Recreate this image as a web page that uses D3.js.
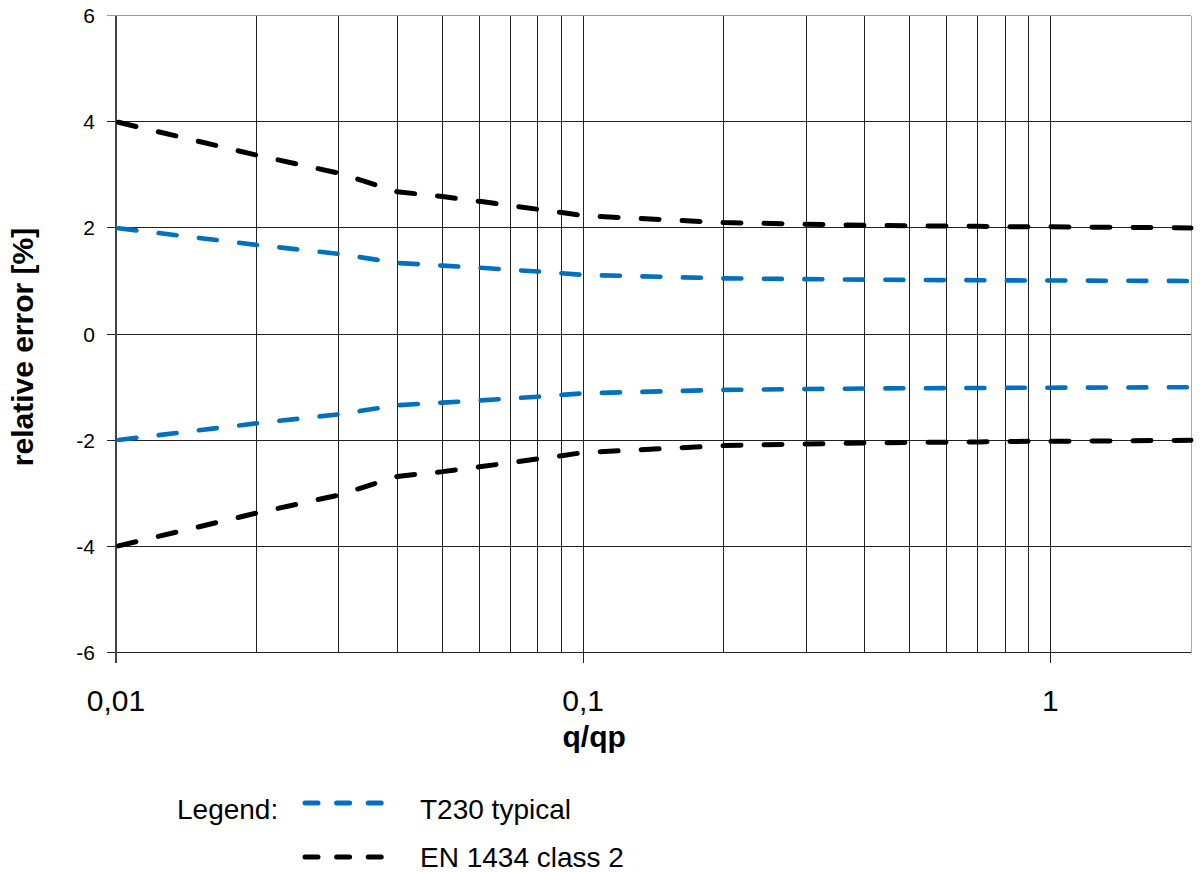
<!DOCTYPE html>
<html lang="en">
<head>
  <meta charset="UTF-8">
  <title>Relative error vs q/qp</title>
  <style>
    body { margin: 0; background: #fff; }
    svg { display: block; font-family: "Liberation Sans", Arial, sans-serif; }
  </style>
</head>
<body>
  <svg width="1200" height="872"></svg>
  <script src="https://d3js.org/d3.v7.min.js"></script>
  <script>
    // data
    const qRatio = [0.01, 0.02, 0.03, 0.04, 0.05, 0.06, 0.07, 0.08, 0.09, 0.1,
                    0.2, 0.3, 0.4, 0.5, 0.6, 0.7, 0.8, 0.9, 1, 2];
    const enUpper = [4.0, 3.37, 3.03, 2.68, 2.59, 2.5, 2.42, 2.35, 2.29, 2.23,
                     2.1, 2.07, 2.05, 2.04, 2.035, 2.03, 2.025, 2.02, 2.02, 2.0];
    const enLower = [-4.0, -3.37, -3.03, -2.68, -2.59, -2.5, -2.42, -2.35, -2.29, -2.23,
                     -2.1, -2.07, -2.05, -2.04, -2.035, -2.03, -2.025, -2.02, -2.02, -2.0];
    const t230Upper = [2.0, 1.68, 1.51, 1.34, 1.29, 1.25, 1.21, 1.18, 1.145, 1.115,
                       1.05, 1.035, 1.025, 1.02, 1.017, 1.015, 1.012, 1.01, 1.01, 1.0];
    const t230Lower = [-2.0, -1.68, -1.51, -1.34, -1.29, -1.25, -1.21, -1.18, -1.145, -1.115,
                       -1.05, -1.035, -1.025, -1.02, -1.017, -1.015, -1.012, -1.01, -1.01, -1.0];

    const yTicks = [-6, -4, -2, 0, 2, 4, 6];
    const xMajor = [0.01, 0.1, 1];
    const xMajorLabels = ["0,01", "0,1", "1"];
    const xMinor = [0.02, 0.03, 0.04, 0.05, 0.06, 0.07, 0.08, 0.09,
                    0.2, 0.3, 0.4, 0.5, 0.6, 0.7, 0.8, 0.9];

    const legendNames = ["T230 typical", "EN 1434 class 2"];
    const blue = "#0070c0";

    const svg = d3.select("svg");
    const plotL = 116, plotR = 1191, plotT = 15.5, plotB = 652.7;

    const x = d3.scaleLog().domain([0.01, 2]).range([plotL, plotR]);
    const y = d3.scaleLinear().domain([-6, 6]).range([plotB, plotT]);

    const grid = svg.append("g").attr("shape-rendering", "crispEdges");

    // vertical grid lines
    grid.selectAll(".vminor").data(xMinor).enter().append("line")
      .attr("x1", d => x(d)).attr("x2", d => x(d))
      .attr("y1", plotT).attr("y2", plotB)
      .attr("stroke", "#222").attr("stroke-width", 1);
    grid.selectAll(".vmajor").data(xMajor.slice(1)).enter().append("line")
      .attr("x1", d => x(d)).attr("x2", d => x(d))
      .attr("y1", plotT).attr("y2", plotB + 10)
      .attr("stroke", "#222").attr("stroke-width", 1);

    // horizontal grid lines
    grid.selectAll(".hgrid").data(yTicks).enter().append("line")
      .attr("x1", plotL - 9).attr("x2", plotR)
      .attr("y1", d => y(d)).attr("y2", d => y(d))
      .attr("stroke", d => d === 6 ? "#999" : "#222")
      .attr("stroke-width", 1);

    // border: right grey, left axis
    grid.append("line").attr("x1", plotR).attr("x2", plotR)
      .attr("y1", plotT).attr("y2", plotB).attr("stroke", "#aaa");
    grid.append("line").attr("x1", plotL).attr("x2", plotL)
      .attr("y1", plotT).attr("y2", plotB + 10).attr("stroke", "#444").attr("stroke-width", 1.2);

    // y tick labels
    svg.selectAll(".ylab").data(yTicks).enter().append("text")
      .attr("x", 95).attr("y", d => y(d)).attr("dy", "0.36em")
      .attr("text-anchor", "end").attr("font-size", 21)
      .text(d => d);

    // x tick labels
    svg.selectAll(".xlab").data(xMajor).enter().append("text")
      .attr("x", d => x(d)).attr("y", 711)
      .attr("text-anchor", "middle").attr("font-size", 30)
      .text((d, i) => xMajorLabels[i]);

    // axis titles
    svg.append("text").attr("x", x(0.1) + 11).attr("y", 747)
      .attr("text-anchor", "middle").attr("font-size", 30).attr("font-weight", "bold")
      .text("q/qp");
    svg.append("text")
      .attr("transform", "translate(33,347) rotate(-90)")
      .attr("text-anchor", "middle").attr("font-size", 30).attr("font-weight", "bold")
      .text("relative error [%]");

    // curves
    const line = d3.line().x(d => x(d[0])).y(d => y(d[1]));
    const series = [
      { vals: enUpper, color: "#000", dash: "18 23", w: 5 },
      { vals: enLower, color: "#000", dash: "18 23", w: 5 },
      { vals: t230Upper, color: blue, dash: "18 22.5", w: 4.6 },
      { vals: t230Lower, color: blue, dash: "18 22.5", w: 4.6 }
    ];
    series.forEach(s => {
      svg.append("path")
        .datum(qRatio.map((q, i) => [q, s.vals[i]]))
        .attr("d", line)
        .attr("fill", "none")
        .attr("stroke", s.color)
        .attr("stroke-width", s.w)
        .attr("stroke-linecap", "round")
        .attr("stroke-dasharray", s.dash)
        .attr("stroke-dashoffset", -2.5);
    });

    // legend
    svg.append("text").attr("x", 177).attr("y", 819).attr("font-size", 28).text("Legend:");
    const legColors = [blue, "#000"];
    legendNames.forEach((name, i) => {
      const ly = 803 + i * 54;
      svg.append("line")
        .attr("x1", 305).attr("x2", 386).attr("y1", ly).attr("y2", ly)
        .attr("stroke", legColors[i]).attr("stroke-width", 5)
        .attr("stroke-linecap", "round").attr("stroke-dasharray", "13 18.6");
      svg.append("text").attr("x", 420).attr("y", 819 + i * 48)
        .attr("font-size", 28).text(name);
    });
  </script>
</body>
</html>
